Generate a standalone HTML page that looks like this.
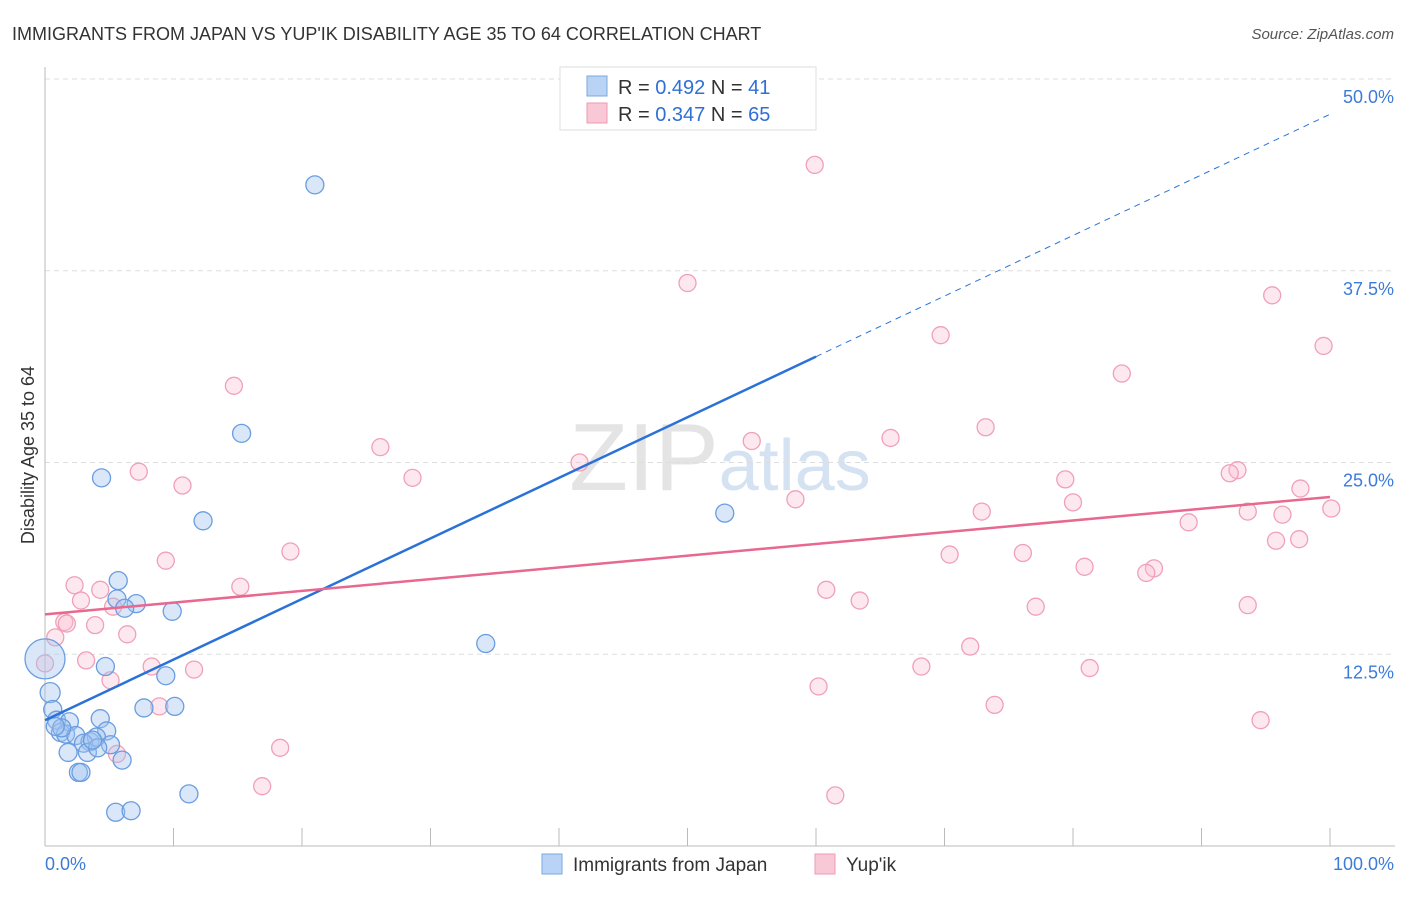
<!DOCTYPE html>
<html><head><meta charset="utf-8"><style>
body{margin:0;background:#fff;font-family:"Liberation Sans",sans-serif}
svg text{font-family:"Liberation Sans",sans-serif}
</style></head><body>
<svg id="c" width="1406" height="892">
<text x="12" y="40" font-size="18" fill="#333">IMMIGRANTS FROM JAPAN VS YUP'IK DISABILITY AGE 35 TO 64 CORRELATION CHART</text>
<text x="1394" y="39" font-size="15" fill="#555" text-anchor="end" font-style="italic">Source: ZipAtlas.com</text>
<text x="720" y="490" font-size="96" fill="#e4e4e4" text-anchor="middle" font-family="Liberation Serif">ZIP<tspan fill="#d5e2f2" font-family="Liberation Sans" font-size="72">atlas</tspan></text>
<text transform="translate(34,455) rotate(-90)" font-size="18" fill="#333" text-anchor="middle">Disability Age 35 to 64</text>
<g id="grid"></g><g id="pts"></g><g id="lines"></g>
<g>
<rect x="560" y="67" width="256" height="63" fill="#fff" stroke="#ddd"/>
<rect x="587" y="76" width="20" height="20" fill="#b8d3f5" stroke="#7aa8e0"/>
<rect x="587" y="103" width="20" height="20" fill="#f9c8d6" stroke="#ee9ab3"/>
<text x="618" y="94" font-size="20" fill="#333">R = <tspan fill="#2f6fd6">0.492</tspan>   N =  <tspan fill="#2f6fd6">41</tspan></text>
<text x="618" y="121" font-size="20" fill="#333">R = <tspan fill="#2f6fd6">0.347</tspan>   N = <tspan fill="#2f6fd6">65</tspan></text>
</g>
<g>
<rect x="542" y="854" width="20" height="20" fill="#b8d3f5" stroke="#7aa8e0"/>
<text x="573" y="871" font-size="19" fill="#333">Immigrants from Japan</text>
<rect x="815" y="854" width="20" height="20" fill="#f9c8d6" stroke="#ee9ab3"/>
<text x="846" y="871" font-size="19" fill="#333">Yup'ik</text>
</g>
</svg>
<script>
const yTicks=[12.5,25,37.5,50];
const yTickLabels=["12.5%","25.0%","37.5%","50.0%"];
const xLabels=["0.0%","100.0%"];
const japanX=[21,15.3,4.4,12.3,52.9,34.3,5.7,5.6,7.1,6.2,9.9,0,4.7,9.4,0.4,0.6,7.7,10.1,0.9,1.9,4.3,1.2,1.6,2.4,4.8,3.5,4,3,1.8,3.3,5.1,4.1,6,2.6,2.8,11.2,5.5,6.7,1.3,0.8,3.7];
const japanY=[43.1,26.9,24,21.2,21.7,13.2,17.3,16.1,15.8,15.5,15.3,12.2,11.7,11.1,10,8.9,9,9.1,8.2,8.1,8.3,7.4,7.3,7.2,7.5,6.8,7.1,6.7,6.1,6.1,6.6,6.4,5.6,4.8,4.8,3.4,2.2,2.3,7.7,7.8,6.9];
const japanR=[9,9,9,9,9,9,9,9,9,9,9,20,9,9,10,9,9,9,9,9,9,9,9,9,9,9,9,9,9,9,9,9,9,9,9,9,9,9,9,9,9];
const yupikX=[59.9,50,95.5,69.7,99.5,14.7,83.8,26.1,73.2,65.8,55,41.6,7.3,28.6,92.8,92.2,79.4,10.7,97.7,80,58.4,100.1,72.9,93.6,96.3,89,19.1,76.1,70.4,95.8,97.6,9.4,80.9,86.3,85.7,2.3,15.2,4.3,60.8,2.8,63.4,5.3,77.1,93.6,1.5,1.7,3.9,6.4,0.8,72,3.2,8.3,0,11.6,68.2,81.3,5.1,60.2,8.9,73.9,94.6,18.3,5.6,16.9,61.5];
const yupikY=[44.4,36.7,35.9,33.3,32.6,30,30.8,26,27.3,26.6,26.4,25,24.4,24,24.5,24.3,23.9,23.5,23.3,22.4,22.6,22,21.8,21.8,21.6,21.1,19.2,19.1,19,19.9,20,18.6,18.2,18.1,17.8,17,16.9,16.7,16.7,16,16,15.6,15.6,15.7,14.6,14.5,14.4,13.8,13.6,13,12.1,11.7,11.9,11.5,11.7,11.6,10.8,10.4,9.1,9.2,8.2,6.4,6,3.9,3.3];
const japanLine=[8.2,31.9]; // values at x=0 and x=60 (solid end)
const yupikLine=[15.1,22.75];
const NS="http://www.w3.org/2000/svg";
const X=v=>45+v*12.85, Y=v=>846-v*15.34;
function mk(t,a,p){const e=document.createElementNS(NS,t);for(const k in a)e.setAttribute(k,a[k]);p.appendChild(e);return e;}
const g=document.getElementById('grid');
yTicks.forEach((t,i)=>{
 const l=mk('line',{x1:45,x2:1395,y1:Y(t),y2:Y(t),stroke:'#ddd','stroke-dasharray':'5,4'},g);
 
 
 const tx=mk('text',{x:1394,y:Y(t)+24,'font-size':18,fill:'#3d7bd9','text-anchor':'end'},g);tx.textContent=yTickLabels[i];
 
 
});
const ax=mk('line',{x1:45,x2:45,y1:67,y2:846,stroke:'#bbb'},g);


const bx=mk('line',{x1:45,x2:1395,y1:846,y2:846,stroke:'#bbb'},g);


for(let i=1;i<=10;i++){const t=mk('line',{x1:X(i*10),x2:X(i*10),y1:828,y2:846,stroke:'#bbb'},g);
 
 }
const l0=mk('text',{x:45,y:870,'font-size':18,fill:'#3d7bd9'},g);l0.textContent=xLabels[0];


const l1=mk('text',{x:1394,y:870,'font-size':18,fill:'#3d7bd9','text-anchor':'end'},g);l1.textContent=xLabels[1];


const p=document.getElementById('pts');
yupikX.forEach((x,i)=>{const c=mk('circle',{cx:X(x),cy:Y(yupikY[i]),r:8.5,fill:'rgba(249,190,208,0.35)',stroke:'#f0a0b8','stroke-width':1.3},p);
 
 });
japanX.forEach((x,i)=>{const c=mk('circle',{cx:X(x),cy:Y(japanY[i]),r:japanR[i],fill:'rgba(160,195,240,0.4)',stroke:'#6a9de0','stroke-width':1.3},p);
 
 });
const L=document.getElementById('lines');
const s=(japanLine[1]-japanLine[0])/60;
const a=mk('line',{x1:X(0),y1:Y(japanLine[0]),x2:X(60),y2:Y(japanLine[1]),stroke:'#2a72d8','stroke-width':2.5},L);


const b=mk('line',{x1:X(60),y1:Y(japanLine[1]),x2:X(100),y2:Y(japanLine[0]+s*100),stroke:'#2a72d8','stroke-width':1,'stroke-dasharray':'6,5'},L);


const c=mk('line',{x1:X(0),y1:Y(yupikLine[0]),x2:X(100),y2:Y(yupikLine[1]),stroke:'#e8688f','stroke-width':2.5},L);


</script>
</body></html>
